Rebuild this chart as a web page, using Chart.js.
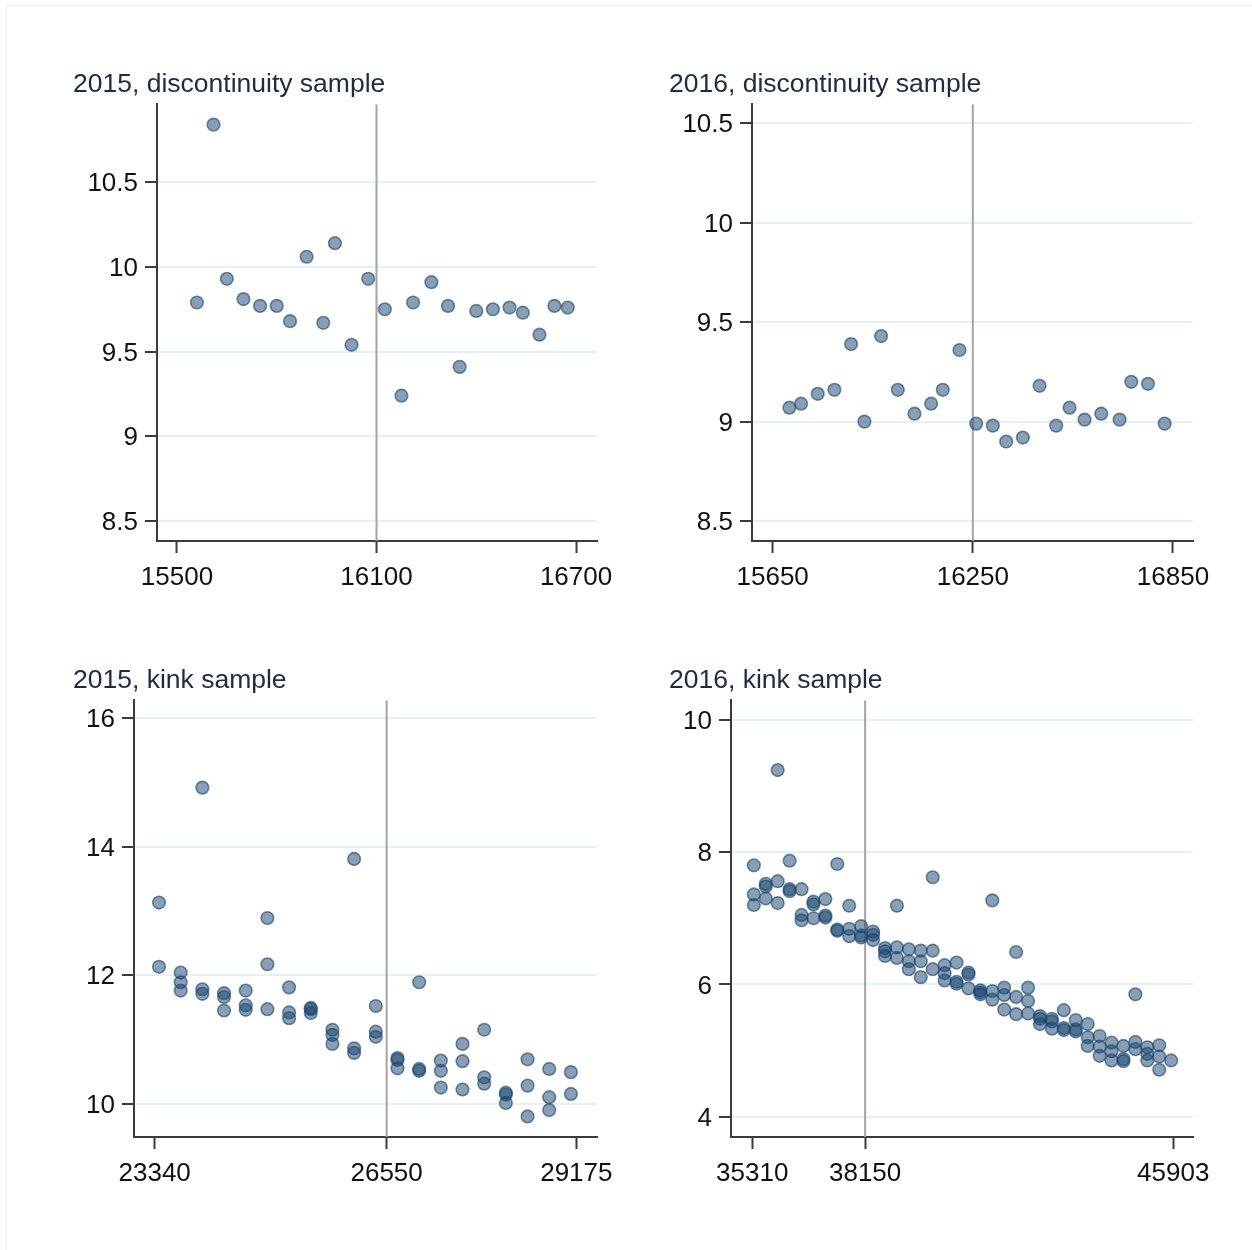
<!DOCTYPE html>
<html>
<head>
<meta charset="utf-8">
<title>Binned scatter by threshold</title>
<script src="https://cdn.jsdelivr.net/npm/chart.js@4.4.1/dist/chart.umd.min.js"></script>
<style>
  html, body { margin: 0; padding: 0; background: #ffffff; }
  body { width: 1252px; height: 1250px; position: relative; overflow: hidden; }
  .frame { position: absolute; left: 6px; top: 5px; right: 0; bottom: 0;
           border-left: 1px solid #f1f1f1; border-top: 1px solid #f1f1f1; }
  canvas { position: absolute; }
</style>
</head>
<body>
<div class="frame"></div>
<canvas id="d2015" width="564" height="541" style="left:73px;top:60px"></canvas>
<canvas id="d2016" width="564" height="541" style="left:669px;top:60px"></canvas>
<canvas id="k2015" width="564" height="541" style="left:73px;top:656px"></canvas>
<canvas id="k2016" width="564" height="541" style="left:669px;top:656px"></canvas>
<script>
// ---- 2015, discontinuity sample ----
const d15Title = '2015, discontinuity sample';
const d15X = [15560, 15610, 15650, 15700, 15750, 15800, 15840, 15890, 15940, 15975, 16025, 16075,
              16125, 16175, 16210, 16265, 16315, 16350, 16400, 16450, 16500, 16540, 16590, 16635, 16675];
const d15Y = [9.79, 10.84, 9.93, 9.81, 9.77, 9.77, 9.68, 10.06, 9.67, 10.14, 9.54, 9.93,
              9.75, 9.24, 9.79, 9.91, 9.77, 9.41, 9.74, 9.75, 9.76, 9.73, 9.60, 9.77, 9.76];
const d15Cut = 16100;
const d15XTicks = [15500, 16100, 16700];
const d15YTicks = [8.5, 9, 9.5, 10, 10.5];

// ---- 2016, discontinuity sample ----
const d16Title = '2016, discontinuity sample';
const d16X = [15700, 15735, 15785, 15835, 15885, 15925, 15975, 16025, 16075, 16125, 16160, 16210,
              16260, 16310, 16350, 16400, 16450, 16500, 16540, 16585, 16635, 16690, 16725, 16775, 16825];
const d16Y = [9.07, 9.09, 9.14, 9.16, 9.39, 9.00, 9.43, 9.16, 9.04, 9.09, 9.16, 9.36,
              8.99, 8.98, 8.90, 8.92, 9.18, 8.98, 9.07, 9.01, 9.04, 9.01, 9.20, 9.19, 8.99];
const d16Cut = 16250;
const d16XTicks = [15650, 16250, 16850];
const d16YTicks = [8.5, 9, 9.5, 10, 10.5];

// ---- 2015, kink sample (several groups per income bin) ----
const k15Title = '2015, kink sample';
const k15Bins = [23400, 23700, 24000, 24300, 24600, 24900, 25200, 25500, 25800, 26100,
                 26400, 26700, 27000, 27300, 27600, 27900, 28200, 28500, 28800, 29100];
const k15Vals = [
  [13.13, 12.13], [12.04, 11.89, 11.76], [14.92, 11.78, 11.71], [11.72, 11.66, 11.45],
  [11.76, 11.53, 11.46], [12.89, 12.17, 11.47], [11.81, 11.42, 11.33], [11.49, 11.47, 11.41],
  [11.15, 11.07, 10.93], [13.81, 10.86, 10.79], [11.52, 11.12, 11.04], [10.71, 10.68, 10.55],
  [11.89, 10.54, 10.51], [10.67, 10.51, 10.25], [10.93, 10.66, 10.22], [11.15, 10.41, 10.31],
  [10.17, 10.14, 10.01], [10.69, 10.28, 9.80], [10.54, 10.10, 9.90], [10.49, 10.15]
];
const k15Cut = 26550;
const k15XTicks = [23340, 26550, 29175];
const k15YTicks = [10, 12, 14, 16];

// ---- 2016, kink sample ----
const k16Title = '2016, kink sample';
const k16Bins = [35350, 35650, 35950, 36250, 36550, 36850, 37150, 37450, 37750, 38050, 38350, 38650,
                 38950, 39250, 39550, 39850, 40150, 40450, 40750, 41050, 41350, 41650, 41950, 42250,
                 42550, 42850, 43150, 43450, 43750, 44050, 44350, 44650, 44950, 45250, 45550, 45850];
const k16Vals = [
  [7.80, 7.36, 7.20], [7.52, 7.48, 7.30], [9.24, 7.56, 7.23], [7.87, 7.44, 7.41],
  [7.44, 7.05, 6.97], [7.25, 7.21, 7.00], [7.29, 7.04, 7.01], [7.82, 6.83, 6.81],
  [7.19, 6.84, 6.73], [6.88, 6.74, 6.71], [6.80, 6.75, 6.67], [6.55, 6.50, 6.43],
  [7.19, 6.56, 6.40], [6.53, 6.35, 6.23], [6.51, 6.35, 6.11], [7.62, 6.51, 6.23],
  [6.29, 6.17, 6.06], [6.33, 6.04, 6.01], [6.18, 6.15, 5.94], [5.91, 5.88, 5.85],
  [7.27, 5.90, 5.77], [5.95, 5.84, 5.62], [6.49, 5.81, 5.55], [5.95, 5.75, 5.56],
  [5.52, 5.48, 5.40], [5.48, 5.44, 5.33], [5.61, 5.34, 5.31], [5.46, 5.32, 5.29],
  [5.40, 5.20, 5.07], [5.22, 5.06, 4.92], [5.12, 4.99, 4.85], [5.07, 4.87, 4.84],
  [5.85, 5.13, 5.02], [5.05, 4.95, 4.85], [5.08, 4.91, 4.71], [4.85]
];
const k16Cut = 38150;
const k16XTicks = [35310, 38150, 45903];
const k16YTicks = [4, 6, 8, 10];

// ---- shared styling ----
const FONT = "'Liberation Sans', Arial, Helvetica, sans-serif";
const MARK_FILL = 'rgba(26,71,111,0.52)';
const MARK_LINE = 'rgba(26,71,111,0.62)';
const AXIS = '#3b3b3b';
const GRID = '#e7f0f2';

function pairs(xs, ys) { return xs.map((x, i) => ({ x: x, y: ys[i] })); }
function binned(bins, vals) {
  const out = [];
  bins.forEach((b, i) => vals[i].forEach(v => out.push({ x: b, y: v })));
  return out;
}

function drawPanel(id, p) {
  new Chart(document.getElementById(id), {
    type: 'scatter',
    data: {
      datasets: [
        { // threshold marker
          data: [{ x: p.cut, y: p.yMin }, { x: p.cut, y: p.yMax }],
          showLine: true, borderColor: '#a4a4a4', borderWidth: 2,
          pointRadius: 0, order: 2
        },
        {
          data: p.points, pointRadius: 6.3, pointBorderWidth: 1.6,
          pointBackgroundColor: MARK_FILL, pointBorderColor: MARK_LINE, order: 1
        }
      ]
    },
    options: {
      responsive: false,
      animation: false,
      events: [],
      layout: { autoPadding: false, padding: { left: 0, right: 40, top: 0, bottom: 0 } },
      plugins: {
        legend: { display: false },
        tooltip: { enabled: false },
        title: {
          display: true, text: p.title, align: 'start', color: '#1f2a44',
          font: { family: FONT, size: 26.5, weight: 'normal' },
          padding: { top: 9.2, bottom: 3.3 }
        }
      },
      scales: {
        x: {
          type: 'linear', min: p.xMin, max: p.xMax,
          afterBuildTicks: s => { s.ticks = p.xTicks.map(v => ({ value: v })); },
          afterFit: s => { s.height = 60; },
          border: { color: AXIS, width: 2 },
          grid: { drawOnChartArea: false, tickLength: 12, tickWidth: 2, tickColor: AXIS },
          ticks: { color: '#111111', font: { family: FONT, size: 26 }, padding: 9,
                   maxRotation: 0, autoSkip: false, callback: v => String(v) }
        },
        y: {
          type: 'linear', min: p.yMin, max: p.yMax,
          afterBuildTicks: s => { s.ticks = p.yTicks.map(v => ({ value: v })); },
          afterFit: s => { s.width = p.axisW; },
          border: { color: AXIS, width: 2 },
          grid: { color: GRID, lineWidth: 2, tickLength: 12, tickWidth: 2, tickColor: AXIS },
          ticks: { color: '#111111', font: { family: FONT, size: 26 }, padding: 7,
                   labelOffset: 2, autoSkip: false, callback: v => String(v) }
        }
      }
    }
  });
}

drawPanel('d2015', { title: d15Title, points: pairs(d15X, d15Y), cut: d15Cut,
  xMin: 15440, xMax: 16763, yMin: 8.382, yMax: 10.96,
  xTicks: d15XTicks, yTicks: d15YTicks, axisW: 84 });

drawPanel('d2016', { title: d16Title, points: pairs(d16X, d16Y), cut: d16Cut,
  xMin: 15588, xMax: 16910, yMin: 8.40, yMax: 10.595,
  xTicks: d16XTicks, yTicks: d16YTicks, axisW: 83 });

drawPanel('k2015', { title: k15Title, points: binned(k15Bins, k15Vals), cut: k15Cut,
  xMin: 23054, xMax: 29461, yMin: 9.48, yMax: 16.28,
  xTicks: k15XTicks, yTicks: k15YTicks, axisW: 61 });

drawPanel('k2016', { title: k16Title, points: binned(k16Bins, k16Vals), cut: k16Cut,
  xMin: 34775, xMax: 46400, yMin: 3.693, yMax: 10.295,
  xTicks: k16XTicks, yTicks: k16YTicks, axisW: 62 });
</script>
</body>
</html>
